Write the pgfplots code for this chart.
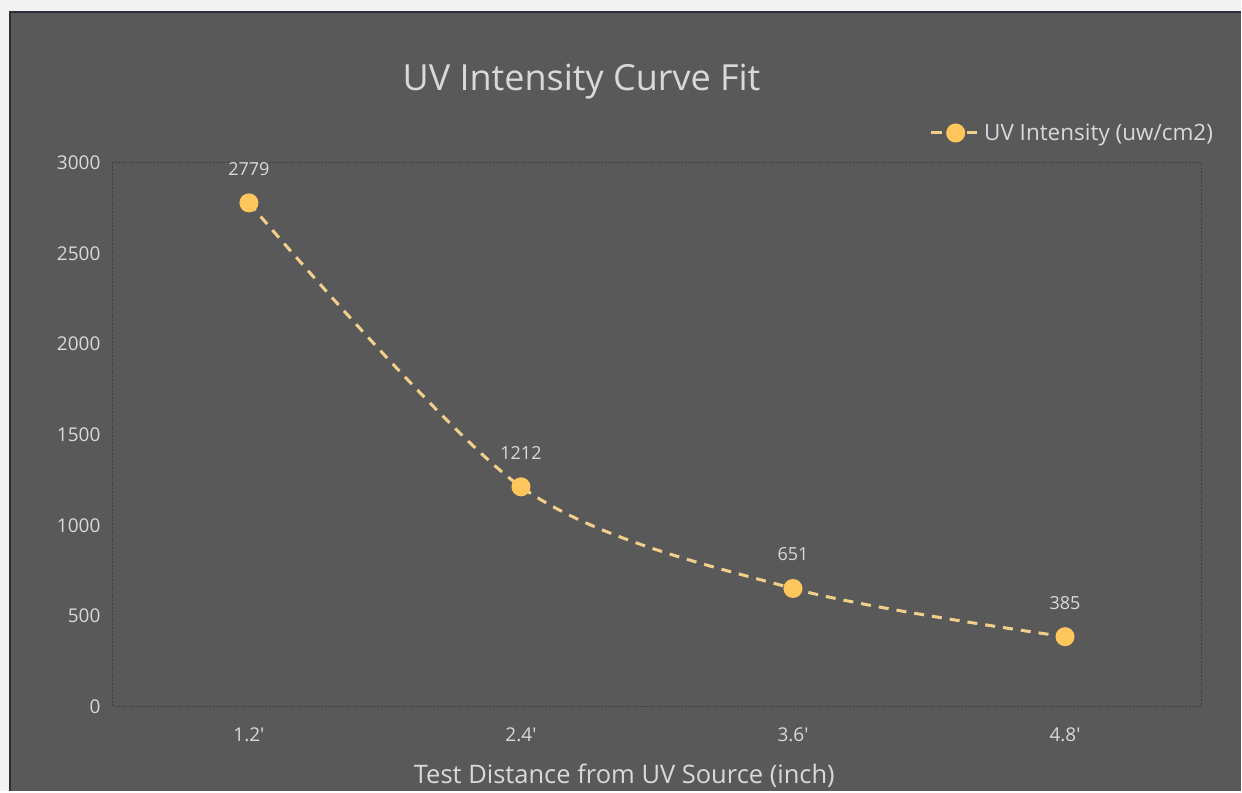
\documentclass[border=0pt]{standalone}
\usepackage{pgfplots}
\pgfplotsset{compat=1.18}
\usepackage{fontspec}
\setmainfont{Open Sans}
\definecolor{panel}{HTML}{595959}
\definecolor{txt}{HTML}{D9D9D9}
\definecolor{uv}{HTML}{FFC65C}
\definecolor{uvline}{HTML}{F2D08C}
\definecolor{plotframe}{HTML}{404040}
\definecolor{outer}{HTML}{2C303A}
\definecolor{bg}{HTML}{F2F2F2}

\begin{document}
\begin{tikzpicture}[x=1bp,y=1bp]
\fill[bg] (0,0) rectangle (1242,792);
\fill[panel] (10,0) rectangle (1242,780);
\draw[line width=2bp, color=outer] (10,0) -- (10,780) -- (1242,780);
\node[text=txt, font=\fontsize{36bp}{42bp}\selectfont, anchor=center] at (582,710) {UV Intensity Curve Fit};
\begin{axis}[
  at={(113bp,85bp)}, anchor=south west,
  scale only axis, width=1089bp, height=544bp,
  xmin=0.5, xmax=4.5, ymin=0, ymax=3000,
  xtick={1,2,3,4},
  xticklabels={1.2\textquotesingle, 2.4\textquotesingle, 3.6\textquotesingle, 4.8\textquotesingle},
  ytick={0,500,1000,1500,2000,2500,3000},
  /pgf/number format/1000 sep={},
  /pgf/number format/assume math mode=true,
  tick style={draw=none},
  major tick length=0pt,
  axis line style={plotframe, dash pattern=on 2bp off 1.5bp, line width=1bp},
  ticklabel style={text=txt, font=\fontsize{19bp}{23bp}\selectfont},
  xticklabel style={anchor=center, yshift=-28bp},
  yticklabel style={anchor=east, xshift=-9bp},
  xlabel={Test Distance from UV Source (inch)},
  xlabel style={at={(axis description cs:0.470,-0.127)}, anchor=center, text=txt, font=\fontsize{25.5bp}{30bp}\selectfont},
  legend style={draw=none, fill=none, text=txt, font=\fontsize{22.5bp}{27bp}\selectfont,
    at={(axis description cs:1.013,1.055)}, anchor=east, inner sep=0pt},
  legend image code/.code={\draw[mark repeat=2, mark phase=2, #1] plot coordinates {(0bp,0bp) (25bp,0bp) (50bp,0bp)};},
  nodes near coords,
  every node near coord/.append style={anchor=center, yshift=34bp, text=txt, font=\fontsize{18bp}{22bp}\selectfont},
]
\addplot[color=uvline, line width=3bp, dash pattern=on 10bp off 8bp, smooth, tension=0.5,
  mark=*, mark size=8bp, mark options={solid, fill=uv, draw=uv}]
  coordinates {(1,2779) (2,1212) (3,651) (4,385)};
\addlegendentry{UV Intensity (uw/cm2)}
\end{axis}
\end{tikzpicture}
\end{document}
